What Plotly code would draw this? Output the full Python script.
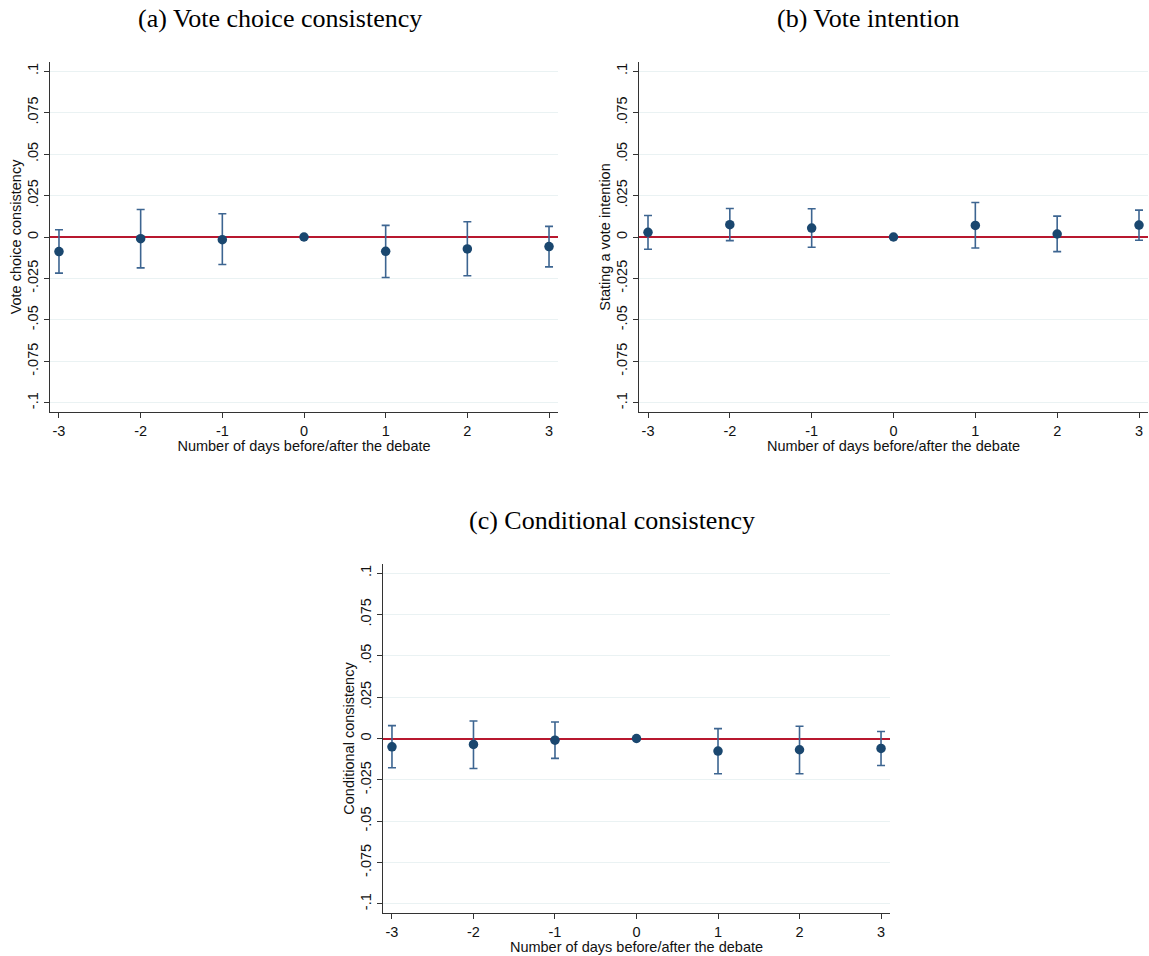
import plotly.graph_objects as go

days = [-3, -2, -1, 0, 1, 2, 3]
tick_vals_y = [-0.1, -0.075, -0.05, -0.025, 0, 0.025, 0.05, 0.075, 0.1]
tick_text_y = ["-.1", "-.075", "-.05", "-.025", "0", ".025", ".05", ".075", ".1"]

# Panel (a) Vote choice consistency
a_est = [-0.0088, -0.0010, -0.0016, 0.0, -0.0086, -0.0072, -0.0058]
a_hi = [0.0044, 0.0166, 0.0140, 0.0, 0.0070, 0.0092, 0.0064]
a_lo = [-0.0218, -0.0186, -0.0166, 0.0, -0.0244, -0.0234, -0.0180]

# Panel (b) Vote intention
b_est = [0.0028, 0.0074, 0.0054, 0.0, 0.0070, 0.0018, 0.0072]
b_hi = [0.0130, 0.0172, 0.0170, 0.0, 0.0208, 0.0126, 0.0162]
b_lo = [-0.0074, -0.0022, -0.0062, 0.0, -0.0066, -0.0088, -0.0020]

# Panel (c) Conditional consistency
c_est = [-0.0050, -0.0036, -0.0010, 0.0, -0.0076, -0.0068, -0.0060]
c_hi = [0.0078, 0.0106, 0.0100, 0.0, 0.0060, 0.0074, 0.0042]
c_lo = [-0.0177, -0.0181, -0.0120, 0.0, -0.0213, -0.0213, -0.0163]

titles = ["(a) Vote choice consistency", "(b) Vote intention", "(c) Conditional consistency"]
ytitles = ["Vote choice consistency", "Stating a vote intention", "Conditional consistency"]
xtitle = "Number of days before/after the debate"

W, H = 1149, 956
MARK = "#1a476f"
BAR = "#3d6591"
RED = "#b8182f"
GRID = "#eaf2f3"
AX = "#333333"
FS = 14.5

# pixel boxes: (left, right, top, bottom)
boxes = [(50, 558, 62, 412), (639, 1148, 62, 412), (383, 890, 564, 913)]
title_pos = [(280, 18), (868, 18), (612, 520)]

fig = go.Figure()
series = [(a_est, a_hi, a_lo), (b_est, b_hi, b_lo), (c_est, c_hi, c_lo)]
for i, (est, hi, lo) in enumerate(series):
    n = "" if i == 0 else str(i + 1)
    xa, ya = "x" + n, "y" + n
    up = [h - e for h, e in zip(hi, est)]
    dn = [e - l for e, l in zip(est, lo)]
    fig.add_trace(go.Scatter(
        x=days, y=est, mode="markers", xaxis=xa, yaxis=ya,
        marker=dict(color=MARK, size=9.5),
        error_y=dict(type="data", symmetric=False, array=up, arrayminus=dn,
                     color=BAR, thickness=1.6, width=4),
        showlegend=False, cliponaxis=False,
    ))
    l, r, t, b = boxes[i]
    axis_common = dict(showline=True, linecolor=AX, linewidth=1.2,
                       ticks="outside", ticklen=5, tickcolor=AX,
                       tickfont=dict(family="Liberation Sans, Arial", size=FS, color="#111"))
    fig.layout["xaxis" + n] = dict(
        domain=[l / W, r / W], anchor=ya, range=[-3.11, 3.11],
        tickvals=days, ticktext=[str(d) for d in days], showgrid=False, zeroline=False,
        title=dict(text=xtitle, standoff=0,
                   font=dict(family="Liberation Sans, Arial", size=FS, color="#111")),
        **axis_common)
    fig.layout["yaxis" + n] = dict(
        domain=[1 - b / H, 1 - t / H], anchor=xa, range=[-0.1055, 0.1055],
        tickvals=tick_vals_y, ticktext=tick_text_y, tickangle=-90,
        showgrid=True, gridcolor=GRID, gridwidth=1,
        zeroline=True, zerolinecolor=RED, zerolinewidth=2,
        title=dict(text=ytitles[i], standoff=0,
                   font=dict(family="Liberation Sans, Arial", size=FS, color="#111")),
        **axis_common)
    tx, ty = title_pos[i]
    fig.add_annotation(text=titles[i], xref="paper", yref="paper",
                       x=tx / W, y=1 - ty / H, showarrow=False,
                       xanchor="center", yanchor="middle",
                       font=dict(family="Liberation Serif, Times New Roman", size=26, color="#000"))

fig.update_layout(width=W, height=H, margin=dict(l=0, r=0, t=0, b=0),
                  plot_bgcolor="white", paper_bgcolor="white")
fig.write_html("out.html", config={"displayModeBar": False},
               post_script="document.body.style.margin='0';document.body.style.overflow='hidden';")
